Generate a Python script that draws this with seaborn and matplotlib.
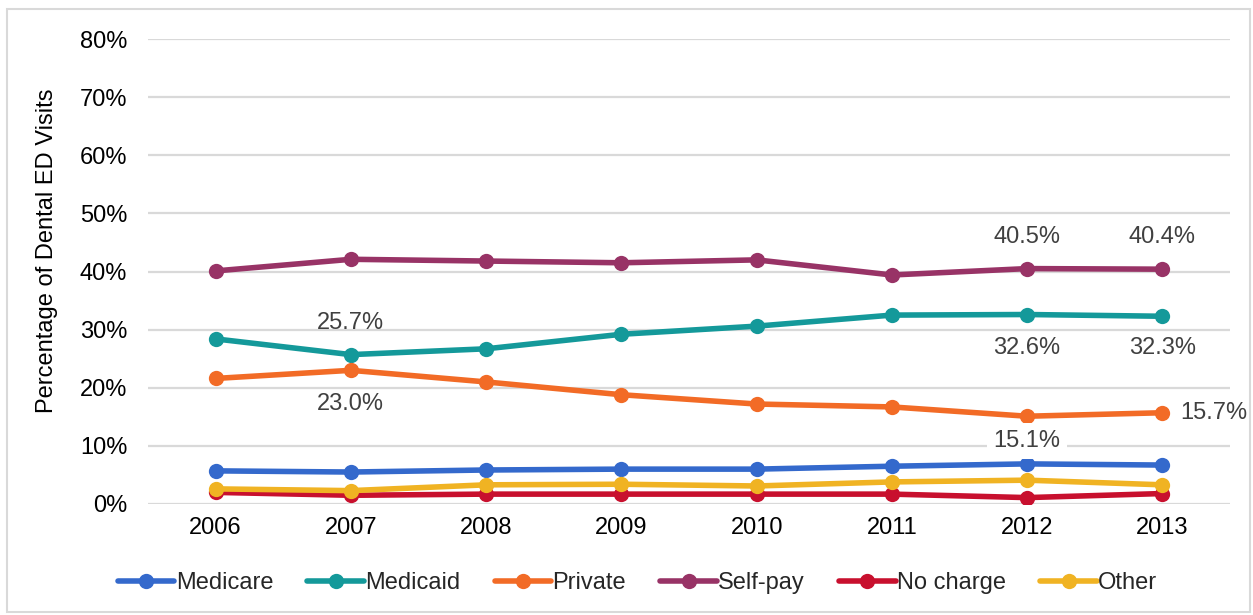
import matplotlib
matplotlib.use("Agg")
import matplotlib.pyplot as plt
import seaborn as sns
import pandas as pd
from matplotlib.patches import Rectangle
from matplotlib.lines import Line2D

years = [2006, 2007, 2008, 2009, 2010, 2011, 2012, 2013]
medicare = [5.7, 5.5, 5.85, 6.0, 6.0, 6.5, 6.9, 6.7]
medicaid = [28.4, 25.7, 26.7, 29.2, 30.6, 32.5, 32.6, 32.3]
private = [21.6, 23.0, 21.0, 18.8, 17.2, 16.7, 15.1, 15.7]
selfpay = [40.1, 42.1, 41.8, 41.5, 42.0, 39.4, 40.5, 40.4]
nocharge = [2.0, 1.5, 1.7, 1.7, 1.7, 1.7, 1.1, 1.8]
other = [2.6, 2.3, 3.3, 3.4, 3.1, 3.8, 4.1, 3.3]

series_names = ["Medicare", "Medicaid", "Private", "Self-pay", "No charge", "Other"]
series_vals = [medicare, medicaid, private, selfpay, nocharge, other]
colors = ["#3469CC", "#14999A", "#F26B26", "#983366", "#C8102E", "#F0B323"]

rows = []
for name, vals in zip(series_names, series_vals):
    for y, v in zip(years, vals):
        rows.append({"Year": y, "Value": v / 100.0, "Series": name})
df = pd.DataFrame(rows)

sns.set_theme(style="white")
plt.rcParams["font.family"] = ["Liberation Sans", "DejaVu Sans"]

FS = 17
fig = plt.figure(figsize=(12.53, 6.15), dpi=100)
ax = fig.add_axes([148 / 1253, 1 - 504 / 615, (1230 - 148) / 1253, (504 - 39) / 615])

palette = dict(zip(series_names, colors))
sns.lineplot(data=df, x="Year", y="Value", hue="Series", palette=palette,
             hue_order=series_names, marker="o", markersize=11, linewidth=4,
             markeredgewidth=0, ax=ax, legend=False, zorder=3)

ax.set_xlim(2005.5, 2013.5)
ax.set_ylim(0, 0.8)
ax.set_yticks([i / 10 for i in range(9)])
ax.set_yticklabels([f"{i*10}%" for i in range(9)], fontsize=FS, color="#000000")
ax.set_xticks(years)
ax.set_xticklabels([str(y) for y in years], fontsize=FS, color="#000000")
ax.tick_params(axis="x", length=0, pad=9)
ax.tick_params(axis="y", length=0, pad=15)
ax.yaxis.grid(True, color="#D9D9D9", linewidth=1.6)
ax.set_axisbelow(True)
for s in ax.spines.values():
    s.set_visible(False)
ax.set_xlabel("")
ax.set_ylabel("Percentage of Dental ED Visits", fontsize=FS, color="#000000")
ax.yaxis.set_label_coords((58 - 148) / 1082, (504 - 251) / 465)

# data labels
lab_kw = dict(fontsize=FS, color="#404040", ha="center", va="center", zorder=4)
ax.text(2007, 0.311, "25.7%", **lab_kw)
ax.text(2007, 0.172, "23.0%", **lab_kw)
ax.text(2012, 0.459, "40.5%", **lab_kw)
ax.text(2013, 0.459, "40.4%", **lab_kw)
ax.text(2012, 0.268, "32.6%", **lab_kw)
ax.text(2013, 0.268, "32.3%", **lab_kw)
ax.text(2012, 0.108, "15.1%", bbox=dict(facecolor="white", edgecolor="none", pad=5), **lab_kw)
ax.text(2013.13, 0.157, "15.7%", fontsize=FS, color="#404040", ha="left", va="center", zorder=4)

handles = [Line2D([0], [0], color=c, lw=4, marker="o", markersize=11, markeredgewidth=0) for c in colors]
fig.legend(handles, series_names, loc="center", bbox_to_anchor=(0.5 + 11 / 1253, 1 - 583 / 615), ncol=6,
           frameon=False, fontsize=FS, handlelength=2.4, handletextpad=0.05, columnspacing=1.45)

fig.patches.append(Rectangle((7 / 1253, 1 - 612 / 615), (1250 - 7) / 1253, (612 - 9) / 615,
                             transform=fig.transFigure, fill=False, edgecolor="#D9D9D9", linewidth=1.5))

fig.savefig("out.png", dpi=100)
